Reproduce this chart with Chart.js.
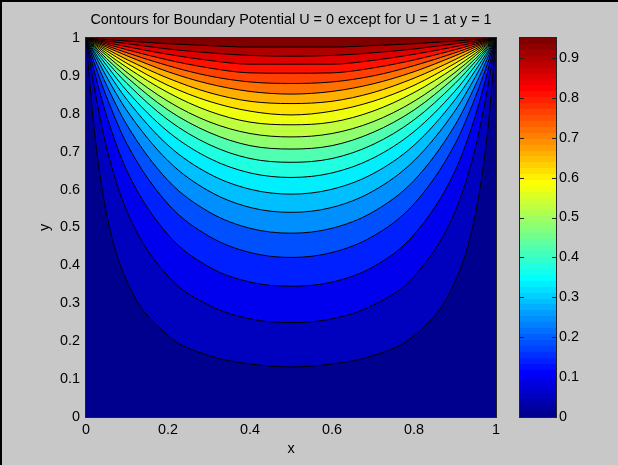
<!DOCTYPE html>
<html>
<head>
    <meta charset="utf-8">
    <title>Contours for Boundary Potential</title>
    <script src="https://cdn.jsdelivr.net/npm/chart.js"></script>
    <style>
        html, body { margin: 0; padding: 0; background: #c8c8c8; }
        #frame { position: relative; width: 618px; height: 465px; background: #c8c8c8; overflow: hidden; }
        #frame canvas { position: absolute; top: 0; }
        #plot { left: 0; }
        #cbar { left: 500px; }
        .edge { position: absolute; background: #000; }
    </style>
</head>
<body>
    <div id="frame">
        <canvas id="plot" width="618" height="465"></canvas>
        <canvas id="cbar" width="118" height="465"></canvas>
        <div class="edge" style="left:0;top:0;width:2px;height:465px;"></div>
        <div class="edge" style="left:0;top:0;width:618px;height:2px;"></div>
    </div>

    <script>
        // contour levels of U, colour axis runs 0 .. cMax
        var levels = [0.0475, 0.095, 0.1425, 0.19, 0.2375, 0.285, 0.3325, 0.38, 0.4275, 0.475,
            0.5225, 0.57, 0.6175, 0.665, 0.7125, 0.76, 0.8075, 0.855, 0.9025, 0.95];
        var cMax = 0.95;

        // x positions where the contours were read (left half, the plot is mirror symmetric about x = 0.5)
        var xStations = [0, 0.02, 0.05, 0.1, 0.2, 0.3, 0.4, 0.5];

        // y of each contour at those x positions, lowest level first
        var contourY = [
            [1, 0.758, 0.537, 0.357, 0.215, 0.162, 0.140, 0.132],
            [1, 0.871, 0.712, 0.542, 0.371, 0.295, 0.259, 0.249],
            [1, 0.913, 0.796, 0.649, 0.481, 0.396, 0.356, 0.345],
            [1, 0.935, 0.845, 0.720, 0.562, 0.477, 0.434, 0.421],
            [1, 0.949, 0.876, 0.770, 0.624, 0.541, 0.498, 0.485],
            [1, 0.959, 0.898, 0.808, 0.676, 0.596, 0.553, 0.540],
            [1, 0.965, 0.915, 0.837, 0.717, 0.642, 0.601, 0.588],
            [1, 0.971, 0.928, 0.860, 0.753, 0.683, 0.644, 0.632],
            [1, 0.975, 0.938, 0.880, 0.784, 0.719, 0.682, 0.672],
            [1, 0.978, 0.946, 0.896, 0.810, 0.751, 0.716, 0.707],
            [1, 0.981, 0.954, 0.909, 0.833, 0.779, 0.748, 0.739],
            [1, 0.984, 0.960, 0.922, 0.856, 0.807, 0.778, 0.771],
            [1, 0.986, 0.966, 0.933, 0.875, 0.833, 0.807, 0.797],
            [1, 0.988, 0.971, 0.943, 0.894, 0.856, 0.833, 0.827],
            [1, 0.990, 0.976, 0.953, 0.911, 0.879, 0.859, 0.852],
            [1, 0.992, 0.980, 0.961, 0.927, 0.900, 0.884, 0.880],
            [1, 0.994, 0.984, 0.969, 0.942, 0.921, 0.908, 0.907],
            [1, 0.995, 0.988, 0.977, 0.957, 0.941, 0.931, 0.931],
            [1, 0.997, 0.992, 0.985, 0.971, 0.961, 0.954, 0.952],
            [1, 0.998, 0.996, 0.992, 0.985, 0.980, 0.976, 0.976]
        ];

        var xTicks = [0, 0.2, 0.4, 0.6, 0.8, 1];
        var xTickLabels = ['0', '0.2', '0.4', '0.6', '0.8', '1'];
        var yTicks = [0, 0.1, 0.2, 0.3, 0.4, 0.5, 0.6, 0.7, 0.8, 0.9, 1];
        var yTickLabels = ['0', '0.1', '0.2', '0.3', '0.4', '0.5', '0.6', '0.7', '0.8', '0.9', '1'];
        var cbTicks = [0, 0.1, 0.2, 0.3, 0.4, 0.5, 0.6, 0.7, 0.8, 0.9];
        var cbTickLabels = ['0', '0.1', '0.2', '0.3', '0.4', '0.5', '0.6', '0.7', '0.8', '0.9'];

        var FONT = "'Liberation Sans', Arial, sans-serif";
        Chart.defaults.font.family = FONT;
        Chart.defaults.font.size = 14.4;
        Chart.defaults.color = '#000';

        // MATLAB jet(64), row 1..64
        function jetRow(i) {
            function u(k) {
                if (k < 1 || k > 47) return 0;
                if (k <= 16) return k / 16;
                if (k <= 31) return 1;
                return (48 - k) / 16;
            }
            var r = u(i - 24), g = u(i - 8), b = u(i + 8);
            return 'rgb(' + Math.round(r * 255) + ',' + Math.round(g * 255) + ',' + Math.round(b * 255) + ')';
        }
        function jet(v) {
            var i = Math.min(64, Math.floor(v / cMax * 64 + 1e-9) + 1);
            return jetRow(i);
        }

        // one dataset per contour, filled up to the top edge; highest level on top
        var datasets = [];
        for (var k = levels.length - 1; k >= 0; k--) {
            var pts = [];
            for (var j = 0; j < xStations.length; j++) {
                pts.push({ x: xStations[j], y: contourY[k][j] });
            }
            for (var j = xStations.length - 2; j >= 0; j--) {
                pts.push({ x: 1 - xStations[j], y: contourY[k][j] });
            }
            datasets.push({
                label: 'U = ' + levels[k],
                data: pts,
                borderColor: '#000',
                borderWidth: 1,
                pointRadius: 0,
                fill: 'end',
                backgroundColor: jet(levels[k]),
                cubicInterpolationMode: 'monotone'
            });
        }

        var plotBox = {
            id: 'plotBox',
            beforeDatasetsDraw: function (chart) {
                var a = chart.chartArea, c = chart.ctx;
                c.save();
                c.fillStyle = jet(0);
                c.fillRect(a.left, a.top, a.right - a.left, a.bottom - a.top);
                c.restore();
            },
            afterDatasetsDraw: function (chart) {
                var a = chart.chartArea, c = chart.ctx;
                c.save();
                c.strokeStyle = '#222';
                c.lineWidth = 1;
                c.strokeRect(a.left - 0.5, a.top - 0.5, a.right - a.left + 1, a.bottom - a.top + 1);
                c.restore();
            }
        };

        function setTicks(list) {
            return function (scale) {
                scale.ticks = list.map(function (v) { return { value: v }; });
            };
        }
        function labelFrom(values, labels) {
            return function (v) {
                var i = values.indexOf(v);
                return i < 0 ? '' : labels[i];
            };
        }

        new Chart(document.getElementById('plot'), {
            type: 'line',
            data: { datasets: datasets },
            options: {
                responsive: false,
                animation: false,
                layout: { padding: { left: 0, right: 122, top: 0, bottom: 0 } },
                plugins: {
                    legend: { display: false },
                    tooltip: { enabled: false },
                    title: {
                        display: true,
                        fullSize: false,
                        text: 'Contours for Boundary Potential U = 0 except for U = 1 at y = 1',
                        color: '#000',
                        font: { size: 14.4, weight: 'normal' },
                        padding: { top: 11, bottom: 9.72 }
                    }
                },
                scales: {
                    x: {
                        type: 'linear',
                        min: 0,
                        max: 1,
                        afterBuildTicks: setTicks(xTicks),
                        afterFit: function (s) { s.height = 48; },
                        grid: { display: false, drawTicks: false },
                        border: { display: false },
                        ticks: { padding: 4, maxRotation: 0, callback: labelFrom(xTicks, xTickLabels) },
                        title: { display: true, text: 'x', padding: { top: 0, bottom: 7.4 } }
                    },
                    y: {
                        type: 'linear',
                        min: 0,
                        max: 1,
                        afterBuildTicks: setTicks(yTicks),
                        afterFit: function (s) { s.width = 86; },
                        grid: { display: false, drawTicks: false },
                        border: { display: false },
                        ticks: { padding: 6, callback: labelFrom(yTicks, yTickLabels) },
                        title: { display: true, text: 'y', padding: { top: 36.4, bottom: 0 } }
                    }
                }
            },
            plugins: [plotBox]
        });

        // colour bar: one floating bar 0..cMax painted with the 64 jet steps
        var cbFrame = {
            id: 'cbFrame',
            afterDatasetsDraw: function (chart) {
                var a = chart.chartArea, c = chart.ctx, s = chart.scales.y;
                c.save();
                c.strokeStyle = '#222';
                c.lineWidth = 1;
                c.strokeRect(a.left - 0.5, a.top - 0.5, a.right - a.left + 1, a.bottom - a.top + 1);
                c.beginPath();
                cbTicks.forEach(function (v) {
                    var y = Math.round(s.getPixelForValue(v)) + 0.5;
                    c.moveTo(a.left, y); c.lineTo(a.left + 4, y);
                    c.moveTo(a.right - 4, y); c.lineTo(a.right, y);
                });
                c.stroke();
                c.restore();
            }
        };

        new Chart(document.getElementById('cbar'), {
            type: 'bar',
            data: {
                labels: [''],
                datasets: [{
                    data: [[0, cMax]],
                    borderWidth: 0,
                    barPercentage: 1,
                    categoryPercentage: 1,
                    backgroundColor: function (ctx) {
                        var a = ctx.chart.chartArea;
                        if (!a) return jetRow(1);
                        var g = ctx.chart.ctx.createLinearGradient(0, a.bottom, 0, a.top);
                        for (var i = 1; i <= 64; i++) {
                            g.addColorStop((i - 1) / 64, jetRow(i));
                            g.addColorStop(i / 64, jetRow(i));
                        }
                        return g;
                    }
                }]
            },
            options: {
                responsive: false,
                animation: false,
                layout: { padding: { left: 20, right: 0, top: 38, bottom: 48 } },
                plugins: { legend: { display: false }, tooltip: { enabled: false } },
                scales: {
                    x: { display: false },
                    y: {
                        position: 'right',
                        min: 0,
                        max: cMax,
                        afterBuildTicks: setTicks(cbTicks),
                        afterFit: function (s) { s.width = 62; },
                        grid: { display: false, drawTicks: false },
                        border: { display: false },
                        ticks: { padding: 3, callback: labelFrom(cbTicks, cbTickLabels) }
                    }
                }
            },
            plugins: [cbFrame]
        });
    </script>
</body>
</html>
